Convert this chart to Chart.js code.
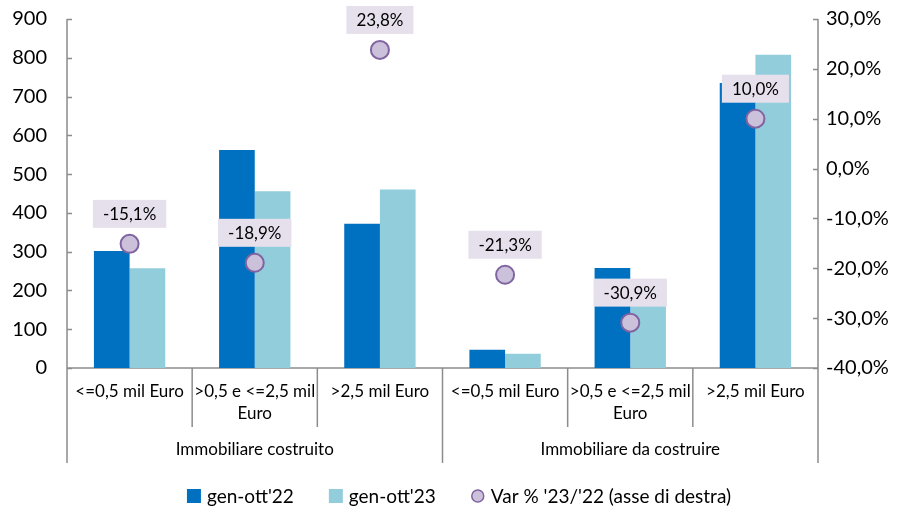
<!DOCTYPE html>
<html>
<head>
<meta charset="utf-8">
<script src="https://cdn.jsdelivr.net/npm/chart.js@4.4.1/dist/chart.umd.min.js"></script>
<style>
  html, body { margin: 0; padding: 0; background: #fff; }
  #wrap { width: 900px; height: 506px; position: relative; }
</style>
</head>
<body>
<div id="wrap"><canvas id="chart"></canvas></div>
<script>
// data
const categories = ['<=0,5 mil Euro', '>0,5 e <=2,5 mil Euro', '>2,5 mil Euro',
                    '<=0,5 mil Euro', '>0,5 e <=2,5 mil Euro', '>2,5 mil Euro'];
const catLines = [['<=0,5 mil Euro'], ['>0,5 e <=2,5 mil', 'Euro'], ['>2,5 mil Euro'],
                  ['<=0,5 mil Euro'], ['>0,5 e <=2,5 mil', 'Euro'], ['>2,5 mil Euro']];
const groups = ['Immobiliare costruito', 'Immobiliare da costruire'];
const groupSize = 3;
const gen22 = [302, 562, 372, 47, 258, 735];
const gen23 = [257, 456, 460, 37, 178, 808];
const varPct = [-15.1, -18.9, 23.8, -21.3, -30.9, 10.0];
const leftTicks = [0, 100, 200, 300, 400, 500, 600, 700, 800, 900];
const rightTicks = [-40, -30, -20, -10, 0, 10, 20, 30];
const seriesNames = ["gen-ott'22", "gen-ott'23", "Var % '23/'22 (asse di destra)"];

const FONT = 'Lato, "Open Sans", sans-serif';
const AXIS = '#8c8c8c';
const DARK = '#0070C0';
const LIGHT = '#92CDDC';
const PT_FILL = '#CCC1DA';
const PT_LINE = '#8064A2';
const LBL_BOX = '#E6E0EC';

function fmtPct(v) {
    return v.toFixed(1).replace('.', ',') + '%';
}

const decor = {
    id: 'decor',
    beforeDatasetsDraw(chart) {
        const {ctx, chartArea: a, scales} = chart;
        const x = scales.x, y = scales.y, y2 = scales.y2;
        const step = (a.right - a.left) / categories.length;
        const bottom = a.bottom + 95;
        const mid = a.bottom + 59;
        ctx.save();
        ctx.strokeStyle = AXIS;
        ctx.lineWidth = 1.5;
        ctx.beginPath();
        // axis lines
        ctx.moveTo(a.left, a.top); ctx.lineTo(a.left, a.bottom);
        ctx.moveTo(a.right, a.top); ctx.lineTo(a.right, a.bottom);
        ctx.moveTo(a.left, a.bottom); ctx.lineTo(a.right, a.bottom);
        // tick marks inside
        leftTicks.forEach(v => {
            const py = Math.round(y.getPixelForValue(v)) + 0.5;
            ctx.moveTo(a.left, py); ctx.lineTo(a.left + 5, py);
        });
        rightTicks.forEach(v => {
            const py = Math.round(y2.getPixelForValue(v)) + 0.5;
            ctx.moveTo(a.right - 5, py); ctx.lineTo(a.right, py);
        });
        // category separators
        for (let i = 0; i <= categories.length; i++) {
            const px = a.left + i * step;
            ctx.moveTo(px, a.bottom);
            ctx.lineTo(px, i % groupSize === 0 ? bottom : mid);
        }
        ctx.stroke();

        // category labels
        ctx.fillStyle = '#000';
        ctx.font = '17px ' + FONT;
        ctx.textAlign = 'center';
        ctx.textBaseline = 'middle';
        catLines.forEach((lines, i) => {
            const cx = x.getPixelForValue(i);
            lines.forEach((t, j) => ctx.fillText(t, cx, a.bottom + 24 + j * 22));
        });
        groups.forEach((g, k) => {
            const gx = a.left + (k * groupSize + groupSize / 2) * step;
            ctx.fillText(g, gx, a.bottom + 82);
        });
        ctx.restore();
    },
    afterDatasetsDraw(chart) {
        const {ctx} = chart;
        const meta = chart.getDatasetMeta(2);
        ctx.save();
        ctx.font = '17px ' + FONT;
        ctx.textAlign = 'center';
        ctx.textBaseline = 'middle';
        meta.data.forEach((pt, i) => {
            const t = fmtPct(varPct[i]);
            const w = ctx.measureText(t).width + 20;
            const h = 28;
            const cy = pt.y - 30;
            ctx.fillStyle = LBL_BOX;
            ctx.fillRect(pt.x - w / 2, cy - h / 2, w, h);
            ctx.fillStyle = '#000';
            ctx.fillText(t, pt.x, cy + 1);
        });
        ctx.restore();
    },
    afterDraw(chart) {
        const {ctx} = chart;
        ctx.save();
        ctx.font = '19px ' + FONT;
        ctx.textBaseline = 'middle';
        const box = 14, gapTxt = 6, gapItem = 35;
        const widths = seriesNames.map(n => box + gapTxt + ctx.measureText(n).width);
        const total = widths.reduce((s, w) => s + w, 0) + gapItem * (widths.length - 1);
        let lx = 459 - total / 2;
        const ly = 496;
        seriesNames.forEach((n, i) => {
            if (i < 2) {
                ctx.fillStyle = i === 0 ? DARK : LIGHT;
                ctx.fillRect(lx, ly - box / 2, box, box);
            } else {
                ctx.beginPath();
                ctx.arc(lx + box / 2, ly, box / 2 - 1, 0, Math.PI * 2);
                ctx.fillStyle = PT_FILL;
                ctx.fill();
                ctx.strokeStyle = PT_LINE;
                ctx.lineWidth = 1.5;
                ctx.stroke();
            }
            ctx.fillStyle = '#000';
            ctx.fillText(n, lx + box + gapTxt, ly + 1);
            lx += widths[i] + gapItem;
        });
        ctx.restore();
    }
};

new Chart(document.getElementById('chart'), {
    data: {
        labels: categories,
        datasets: [
            {
                type: 'bar', label: seriesNames[0], data: gen22, yAxisID: 'y',
                backgroundColor: DARK, categoryPercentage: 0.57, barPercentage: 1.0, order: 2
            },
            {
                type: 'bar', label: seriesNames[1], data: gen23, yAxisID: 'y',
                backgroundColor: LIGHT, categoryPercentage: 0.57, barPercentage: 1.0, order: 2
            },
            {
                type: 'line', label: seriesNames[2], data: varPct, yAxisID: 'y2',
                showLine: false, pointRadius: 9, pointHoverRadius: 9,
                pointBackgroundColor: PT_FILL, pointBorderColor: PT_LINE, pointBorderWidth: 2,
                order: 1
            }
        ]
    },
    options: {
        responsive: true,
        maintainAspectRatio: false,
        animation: false,
        layout: { padding: { top: 19, left: 0, right: 0, bottom: 0 } },
        plugins: { legend: { display: false }, tooltip: { enabled: false } },
        scales: {
            x: {
                grid: { display: false, drawTicks: false },
                border: { display: false },
                ticks: { display: false },
                afterFit(s) { s.height = 138; }
            },
            y: {
                position: 'left', min: 0, max: 900,
                grid: { display: false, drawTicks: false },
                border: { display: false },
                ticks: { stepSize: 100, padding: 20, color: '#000', font: { family: FONT, size: 20 } },
                afterFit(s) { s.width = 67; s.paddingTop = 0; s.paddingBottom = 0; }
            },
            y2: {
                position: 'right', min: -40, max: 30,
                grid: { display: false, drawTicks: false },
                border: { display: false },
                ticks: { stepSize: 10, padding: 8, color: '#000', font: { family: FONT, size: 20 },
                         callback: v => fmtPct(v) },
                afterFit(s) { s.width = 82; s.paddingTop = 0; s.paddingBottom = 0; }
            }
        }
    },
    plugins: [decor]
});
</script>
</body>
</html>
